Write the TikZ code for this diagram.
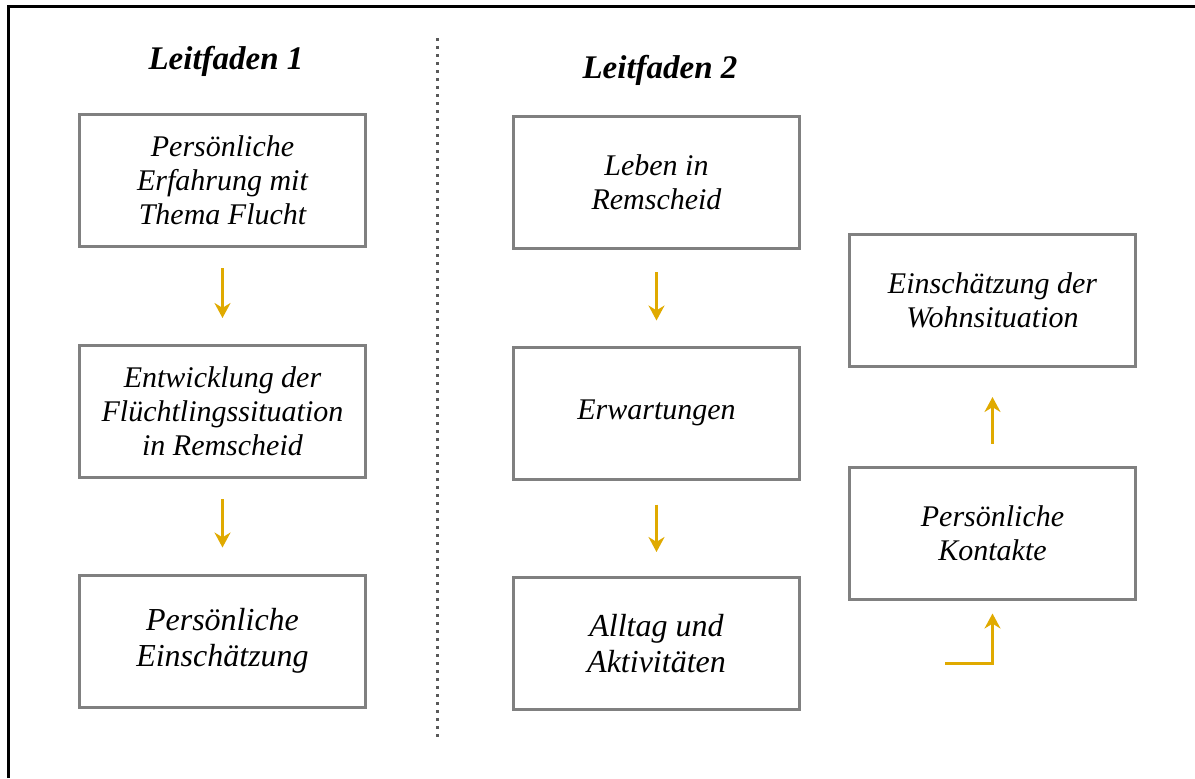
\documentclass[tikz,border=0pt]{standalone}
\usepackage{fontspec}
\setmainfont{Liberation Serif}
\usetikzlibrary{arrows.meta}
\usetikzlibrary{positioning}

\definecolor{boxgray}{HTML}{808080}
\definecolor{arrgold}{HTML}{E0AA00}

\tikzset{
  thema/.style={draw=boxgray, line width=1.5pt, align=center,
    minimum width=143pt, minimum height=66pt, inner sep=0pt,
    font=\fontsize{15}{17}\selectfont\itshape},
  thema gross/.style={thema, font=\fontsize{16}{18}\selectfont\itshape},
  kopf/.style={font=\fontsize{16.5}{19}\selectfont\bfseries\itshape},
  pfeil/.style={draw=arrgold, line width=1.5pt,
    -{Stealth[length=7.5pt,width=8pt]}},
}

\begin{document}
\begin{tikzpicture}[x=0.5pt,y=-0.5pt]
\useasboundingbox (0,0) rectangle (1195,778);
% frame, only left and top
\draw[line width=1.5pt] (8,778) -- (8,6) -- (1195,6);
% divider
\coordinate (d1) at (437,38);
\coordinate (d2) at (437,737);
\draw[line width=1.5pt, draw=black!65, dash pattern=on 1.5pt off 2.5pt] (d1) -- (d2);

\node[kopf] (k1) at (226,61) {Leitfaden 1};
\node[kopf] (k2) at (660,70) {Leitfaden 2};

% Leitfaden 1
\node[thema] (l1) at (222.5,180.5) {Persönliche\\Erfahrung mit\\Thema Flucht};
\node[thema] (l2) at (222.5,411.5) {Entwicklung der\\Flüchtlingssituation\\in Remscheid};
\node[thema gross] (l3) at (222.5,641) {Persönliche\\Einschätzung};

% Leitfaden 2
\node[thema] (m1) at (656.5,182.5) {Leben in\\Remscheid};
\node[thema] (m2) at (656.5,413) {Erwartungen};
\node[thema gross] (m3) at (656.5,643.5) {Alltag und\\Aktivitäten};
\node[thema] (r1) at (992.5,300.5) {Einschätzung der\\Wohnsituation};
\node[thema] (r2) at (992.5,533) {Persönliche\\Kontakte};

\draw[pfeil, shorten <=10pt, shorten >=13pt] (l1.south) -- (l2.north);
\draw[pfeil, shorten <=10pt, shorten >=13pt] (l2.south) -- (l3.north);
\draw[pfeil, shorten <=11pt, shorten >=12.5pt] (m1.south) -- (m2.north);
\draw[pfeil, shorten <=12pt, shorten >=12pt] (m2.south) -- (m3.north);
\draw[pfeil, shorten <=11pt, shorten >=14.5pt] (r2.north) -- (r1.south);
\coordinate (einst) at (945,663);
\draw[pfeil, shorten >=6.5pt] (einst) -| (r2.south);
\end{tikzpicture}
\end{document}
